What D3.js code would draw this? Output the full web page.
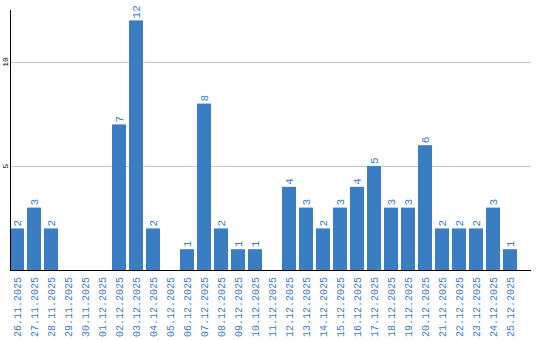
<!DOCTYPE html>
<html><head><meta charset="utf-8">
<script src="https://cdn.jsdelivr.net/npm/d3@7"></script>
<style>body{margin:0;background:#fff}svg{display:block}</style>
</head><body>
<script>
const categories = ["26.11.2025","27.11.2025","28.11.2025","29.11.2025","30.11.2025","01.12.2025","02.12.2025","03.12.2025","04.12.2025","05.12.2025","06.12.2025","07.12.2025","08.12.2025","09.12.2025","10.12.2025","11.12.2025","12.12.2025","13.12.2025","14.12.2025","15.12.2025","16.12.2025","17.12.2025","18.12.2025","19.12.2025","20.12.2025","21.12.2025","22.12.2025","23.12.2025","24.12.2025","25.12.2025"];
const values = [2,3,2,0,0,0,7,12,2,0,1,8,2,1,1,0,4,3,2,3,4,5,3,3,6,2,2,2,3,1];
const yTicks = [5,10];

(function(){
const W=540,H=340, mLeft=10, mRight=531, mTop=10, mBottom=270;
const color="#3b7dc3";
const svg=d3.select("body").append("svg").attr("width",W).attr("height",H);
const x=d3.scaleBand().domain(categories).range([mLeft,mLeft+17*30-3]).paddingInner(3/17).paddingOuter(0);
const y=d3.scaleLinear().domain([0,12.5]).range([mBottom,mTop]);

svg.append("g").selectAll("line").data(yTicks).join("line")
  .attr("x1",mLeft).attr("x2",mRight).attr("y1",d=>Math.round(y(d))+0.5).attr("y2",d=>Math.round(y(d))+0.5)
  .attr("stroke","#c8c8c8").attr("stroke-width",1);

svg.append("g").selectAll("rect").data(values).join("rect")
  .attr("x",(d,i)=>x(categories[i])).attr("width",x.bandwidth())
  .attr("y",d=>y(d)).attr("height",d=>y(0)-y(d)).attr("fill",color);

svg.append("g").selectAll("text").data(values.map((v,i)=>({v,i})).filter(d=>d.v>0)).join("text")
  .attr("transform",d=>`translate(${x(categories[d.i])+x.bandwidth()/2+4},${y(d.v)-2}) rotate(-90)`)
  .attr("font-family","Liberation Mono, monospace").attr("font-size",11).attr("fill",color)
  .text(d=>d.v);

svg.append("line").attr("x1",mLeft+0.5).attr("x2",mLeft+0.5).attr("y1",mTop).attr("y2",mBottom).attr("stroke","#000");
svg.append("line").attr("x1",mLeft).attr("x2",mRight).attr("y1",mBottom+0.5).attr("y2",mBottom+0.5).attr("stroke","#000");

svg.append("g").selectAll("text").data(yTicks).join("text")
  .attr("transform",d=>`translate(8,${y(d)}) rotate(-90)`)
  .attr("text-anchor","middle").attr("font-family","Liberation Mono, monospace").attr("font-size",8).attr("fill","#000")
  .text(d=>d);

svg.append("g").selectAll("text").data(categories).join("text")
  .attr("transform",d=>`translate(${x(d)+x.bandwidth()/2+4},277) rotate(-90)`)
  .attr("text-anchor","end").attr("font-family","Liberation Mono, monospace").attr("font-size",10).attr("fill",color)
  .text(d=>d);
})();
</script>
</body></html>
